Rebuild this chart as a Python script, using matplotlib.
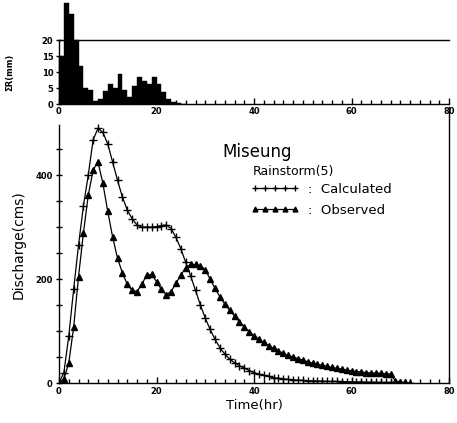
import matplotlib
matplotlib.use("Agg")
import matplotlib.pyplot as plt
from matplotlib.lines import Line2D
import numpy as np

# ---- data ----
rain_hours = list(range(0, 26))
rain_mm = [15, 31.5, 28, 20, 12, 5, 4.4, 1, 1.5, 4, 6.2, 5, 9.4, 4.5, 2.2,
           5.5, 8.3, 7.3, 6.3, 8.3, 6.3, 3.8, 1.5, 0.6, 0.2, 0.1]

time_hr = list(range(0, 73))
calculated = [0, 20, 90, 180, 265, 340, 400, 468, 490, 482, 460, 425, 390, 358,
              333, 316, 304, 300, 300, 300, 301, 303, 304, 297, 280, 258, 232,
              206, 178, 150, 125, 103, 84, 68, 56, 46, 39, 33, 29, 24, 20, 17,
              15, 13, 10, 9, 8, 7, 6, 5.5, 5, 4.5, 4, 4, 3.5, 3, 3, 3, 2.5, 2.5,
              2, 2, 2, 1.5, 1.5, 1.5, 1, 1, 1, 0.5, 0.5, 0.5, 0.5]
observed = [0, 8, 38, 107, 204, 288, 361, 410, 425, 384, 330, 281, 240, 212,
            190, 178, 176, 190, 208, 209, 195, 180, 170, 176, 192, 208, 222,
            228, 228, 225, 218, 200, 182, 166, 152, 140, 129, 118, 108, 99, 91,
            84, 78, 72, 67, 62, 57, 53, 50, 47, 44, 41, 38, 36, 34, 32, 30, 28,
            27, 25, 23, 22, 21, 20, 19.5, 19, 18.5, 18, 17, 4, 2, 1, 0]

xticks = [0, 20, 40, 60, 80]
rain_yticks = [0, 5, 10, 15, 20]
q_yticks = [0, 200, 400]

W, H = 457, 423
fig = plt.figure(figsize=(W / 100, H / 100), dpi=100)

def fx(px):
    return px / W

def fy(py):
    return 1 - py / H

# ---- bottom: discharge (created first so the top axes sits above it) ----
axq = fig.add_axes([fx(59), fy(383), fx(449) - fx(59), fy(107) - fy(383)])
axq.patch.set_visible(False)
axq.plot(time_hr, calculated, color='black', lw=0.9, marker='+', ms=6, mew=1.0)
axq.plot(time_hr, observed, color='black', lw=0.9, marker='^', ms=4.5,
         mfc='black', mec='black')
axq.set_xlim(0, 80)
axq.set_ylim(0, 531)
axq.spines['top'].set_visible(False)
axq.spines['left'].set_bounds(0, 496)
for s in ['left', 'right', 'bottom']:
    axq.spines[s].set_linewidth(1.0)
axq.set_xticks(xticks)
axq.set_xticks(np.arange(0, 81, 2), minor=True)
axq.set_yticks(q_yticks)
axq.set_yticks(np.arange(0, 500, 50), minor=True)
axq.tick_params(axis='x', which='major', direction='in', length=4, width=1, pad=3)
axq.tick_params(axis='x', which='minor', direction='in', length=3, width=1)
axq.tick_params(axis='y', which='major', direction='inout', length=5, width=1, pad=2)
axq.tick_params(axis='y', which='minor', direction='inout', length=4, width=1)
for lab in axq.get_xticklabels() + axq.get_yticklabels():
    lab.set_fontsize(6)
    lab.set_fontweight('bold')
axq.set_xlabel('Time(hr)', fontsize=9.5, labelpad=2)
axq.set_ylabel('Discharge(cms)', fontsize=10, labelpad=7)

# ---- top: rainfall ----
axr = fig.add_axes([fx(59), fy(104), fx(449) - fx(59), fy(40) - fy(104)])
axr.patch.set_visible(False)
axr.bar(rain_hours, rain_mm, width=1.0, align='edge', color='black',
        edgecolor='black', linewidth=0.3, clip_on=False)
axr.set_xlim(0, 80)
axr.set_ylim(0, 20)
axr.spines['right'].set_visible(False)
for s in ['left', 'top', 'bottom']:
    axr.spines[s].set_linewidth(1.0)
axr.set_xticks(xticks)
axr.set_xticks(np.arange(0, 81, 2), minor=True)
axr.set_yticks(rain_yticks)
axr.tick_params(axis='x', which='major', direction='in', length=4, width=1, pad=2)
axr.tick_params(axis='x', which='minor', direction='in', length=3, width=1)
axr.tick_params(axis='y', direction='inout', length=4, width=1, pad=2)
for lab in axr.get_xticklabels() + axr.get_yticklabels():
    lab.set_fontsize(6)
    lab.set_fontweight('bold')
axr.set_ylabel('ΣR(mm)', fontsize=6, fontweight='bold', labelpad=20)

# ---- annotation / legend ----
axq.text((222 - 59) / 390, (383 - 152) / 276, 'Miseung', transform=axq.transAxes,
         fontsize=12, va='center', ha='left')
axq.text((253 - 59) / 390, (383 - 171) / 276, 'Rainstorm(5)', transform=axq.transAxes,
         fontsize=9, va='center', ha='left')
handles = [Line2D([], [], color='black', lw=0.9, marker='+', ms=5, mew=1.0),
           Line2D([], [], color='black', lw=0.9, marker='^', ms=3.5, mfc='black')]
leg = axq.legend(handles, [':  Calculated', ':  Observed'], numpoints=5,
                 handlelength=3.6, frameon=False, fontsize=9.5,
                 loc='upper left', bbox_to_anchor=((251 - 59) / 390, (383 - 183) / 276),
                 borderaxespad=0, borderpad=0, handletextpad=0.7, labelspacing=0.6)

fig.savefig('out.png', dpi=100)
